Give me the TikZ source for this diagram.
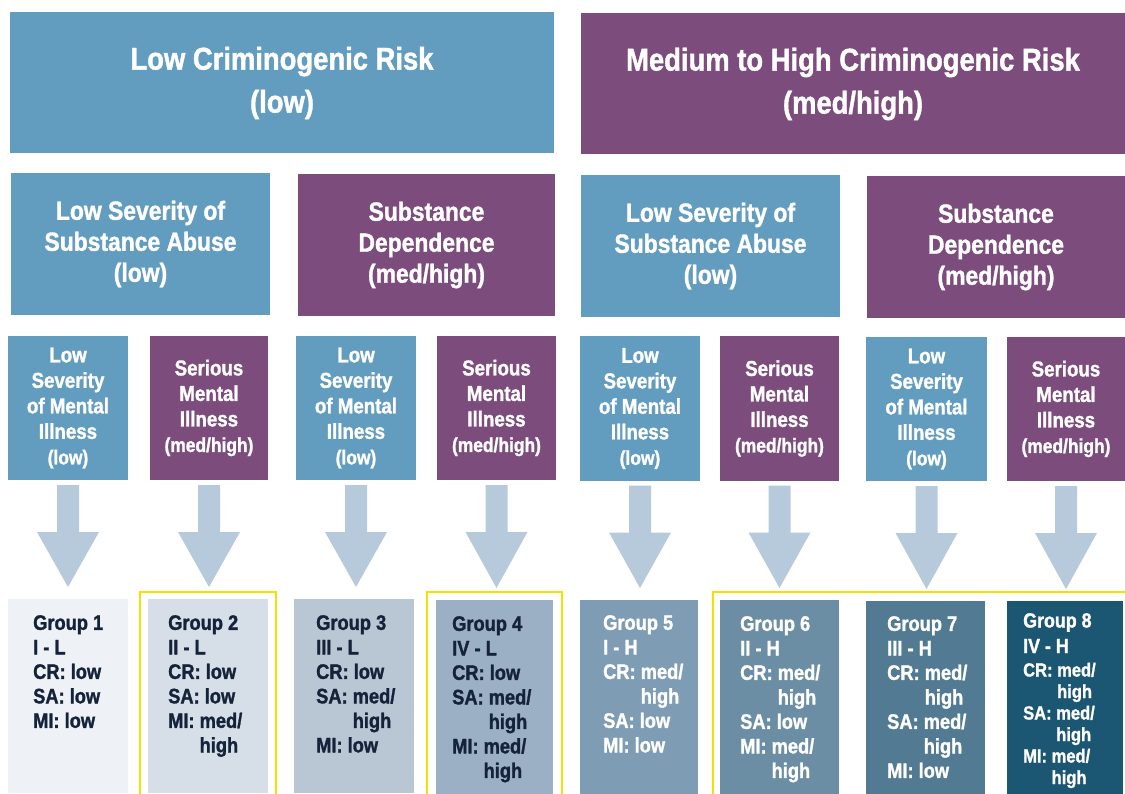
\documentclass[tikz,border=0pt]{standalone}
\usepackage{fontspec}
\setmainfont{Liberation Sans}[FakeStretch=0.87, BoldFeatures={FakeBold=1.3}]
\usetikzlibrary{calc}
\definecolor{cblue}{HTML}{629DC0}
\definecolor{cpurp}{HTML}{7C4C7D}
\definecolor{carrow}{HTML}{B7CADB}
\definecolor{cyel}{HTML}{F3E200}
\definecolor{cdark}{HTML}{15233A}
\definecolor{gcA}{HTML}{EEF2F6}
\definecolor{gcB}{HTML}{D6DFE8}
\definecolor{gcC}{HTML}{B9C6D3}
\definecolor{gcD}{HTML}{9BB0C4}
\definecolor{gcE}{HTML}{7E9DB4}
\definecolor{gcF}{HTML}{6C8EA5}
\definecolor{gcG}{HTML}{527A93}
\definecolor{gcH}{HTML}{1B5672}
\newcommand\contline[1]{\phantom{#1~}high}
\begin{document}
\begin{tikzpicture}[x=1pt,y=-1pt,
  panel/.style={inner sep=0pt, outer sep=0pt, align=center, text=white},
  hdr/.style={panel, minimum height=141pt, font=\fontsize{31.5}{43}\selectfont\bfseries},
  sub/.style={panel, minimum height=142pt, font=\fontsize{26.3}{31}\selectfont\bfseries},
  lvl/.style={panel, minimum height=144pt, font=\fontsize{21.5}{25.5}\selectfont\bfseries},
  grp/.style={inner sep=0pt, outer sep=0pt, minimum height=194pt},
  gtxt/.style={inner sep=0pt, anchor=north west, align=left, font=\fontsize{21}{24.5}\selectfont\bfseries},
  blockarrow/.style={fill=carrow},
  hilite/.style={draw=cyel, line width=2pt}
]
\useasboundingbox (0,0) rectangle (1125,794);
\clip (0,0) rectangle (1125,794);
\fill[white] (0,0) rectangle (1125,794);

% top row
\node[hdr, fill=cblue, minimum width=544pt] (risklow) at (282,83) {Low Criminogenic Risk\\(low)};
\node[hdr, fill=cpurp, minimum width=544pt] (riskhigh) at (853,84) {Medium to High Criminogenic Risk\\(med/high)};

% second row
\node[sub, fill=cblue, minimum width=259pt] (sa1) at (140.5,244) {Low Severity of\\Substance Abuse\\(low)};
\node[sub, fill=cpurp, minimum width=257pt] (sd1) at (426.5,245) {Substance\\Dependence\\(med/high)};
\node[sub, fill=cblue, minimum width=259pt] (sa2) at (710.5,246) {Low Severity of\\Substance Abuse\\(low)};
\node[sub, fill=cpurp, minimum width=258pt] (sd2) at (996,247) {Substance\\Dependence\\(med/high)};

% third row
\newcommand\lowmi{Low\\Severity\\of Mental\\Illness\\{\fontsize{20}{25.5}\selectfont(low)}}
\newcommand\smi{Serious\\Mental\\Illness\\{\fontsize{20}{25.5}\selectfont(med/high)}}
\node[lvl, fill=cblue, minimum width=120pt] (m1) at (68,408) {\lowmi};
\node[lvl, fill=cpurp, minimum width=118pt] (m2) at (209,408) {\smi};
\node[lvl, fill=cblue, minimum width=120pt] (m3) at (356,408) {\lowmi};
\node[lvl, fill=cpurp, minimum width=119pt] (m4) at (496.5,408) {\smi};
\node[lvl, fill=cblue, minimum width=120pt] (m5) at (640,408.5) {\lowmi};
\node[lvl, fill=cpurp, minimum width=119pt] (m6) at (779.5,408.5) {\smi};
\node[lvl, fill=cblue, minimum width=121pt] (m7) at (926.5,409) {\lowmi};
\node[lvl, fill=cpurp, minimum width=118pt] (m8) at (1066,409) {\smi};

% group boxes
\node[grp, fill=gcA, minimum width=120pt] (g1) at (68,696) {};
\node[grp, fill=gcB, minimum width=120pt] (g2) at (208,696) {};
\node[grp, fill=gcC, minimum width=120pt] (g3) at (354,696) {};
\node[grp, fill=gcD, minimum width=117pt] (g4) at (494.5,697) {};
\node[grp, fill=gcE, minimum width=118pt] (g5) at (639,697) {};
\node[grp, fill=gcF, minimum width=119pt] (g6) at (779.5,697) {};
\node[grp, fill=gcG, minimum width=119pt] (g7) at (925.5,698) {};
\node[grp, fill=gcH, minimum width=116pt] (g8) at (1065,698) {};

% highlight frames
\draw[hilite] ($(g2.north west)+(-8,-7)$) rectangle ($(g2.south east)+(8,30)$);
\draw[hilite] ($(g4.north west)+(-9,-8)$) rectangle ($(g4.south east)+(9,30)$);
\draw[hilite] ($(g6.north west)+(-7,-8)$) rectangle ($(g8.south east)+(40,30)$);

% group texts
\node[gtxt, text=cdark] (t1) at ($(g1.north west)+(25,16)$) {Group 1\\I - L\\CR: low\\SA: low\\MI: low};
\node[gtxt, text=cdark] (t2) at ($(g2.north west)+(20,16)$) {Group 2\\II - L\\CR: low\\SA: low\\MI: med/\\\contline{MI:}};
\node[gtxt, text=cdark] (t3) at ($(g3.north west)+(22,16)$) {Group 3\\III - L\\CR: low\\SA: med/\\\contline{SA:}\\MI: low};
\node[gtxt, text=cdark] (t4) at ($(g4.north west)+(16,16)$) {Group 4\\IV - L\\CR: low\\SA: med/\\\contline{SA:}\\MI: med/\\\contline{MI:}};
\node[gtxt, text=white] (t5) at ($(g5.north west)+(23,15)$) {Group 5\\I - H\\CR: med/\\\contline{CR:}\\SA: low\\MI: low};
\node[gtxt, text=white] (t6) at ($(g6.north west)+(20,16)$) {Group 6\\II - H\\CR: med/\\\contline{CR:}\\SA: low\\MI: med/\\\contline{MI:}};
\node[gtxt, text=white] (t7) at ($(g7.north west)+(21,15)$) {Group 7\\III - H\\CR: med/\\\contline{CR:}\\SA: med/\\\contline{SA:}\\MI: low};
\node[gtxt, text=white, font=\fontsize{19}{21.5}\selectfont\bfseries] (t8) at ($(g8.north west)+(16,12)$) {{\fontsize{20.5}{21.5}\selectfont Group 8}\\[4pt]{\fontsize{20.5}{21.5}\selectfont IV - H}\\[2pt]CR: med/\\\contline{CR:}\\SA: med/\\\contline{SA:}\\MI: med/\\\contline{MI:}};

% block arrows
\foreach \i in {1,...,8}{
  \fill[blockarrow] ($(m\i.south)+(-11,5)$) -- ($(m\i.south)+(11,5)$) -- ($(m\i.south)+(11,52)$) -- ($(m\i.south)+(31,52)$)
    -- ($(m\i.south |- g\i.north)+(0,-12)$) -- ($(m\i.south)+(-31,52)$) -- ($(m\i.south)+(-11,52)$) -- cycle;
}
\end{tikzpicture}
\end{document}
